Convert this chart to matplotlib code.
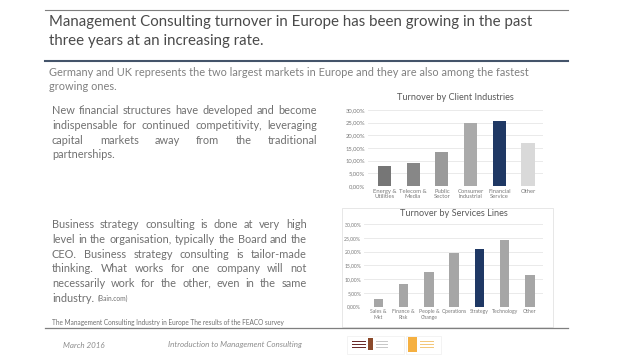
import numpy as np
import matplotlib.pyplot as plt
from matplotlib.patches import Rectangle

# data
client_labels = ["Energy &\nUtilities", "Telecom &\nMedia", "Public\nSector",
                 "Consumer\nIndustrial", "Financial\nService", "Other"]
client_values = [7.9, 9.2, 13.4, 24.9, 25.7, 16.8]
client_colors = ["#767676", "#878787", "#9a9a9a", "#aaaaaa", "#1f3864", "#d9d9d9"]

service_labels = ["Sales &\nMkt", "Finance &\nRisk", "People &\nChange",
                  "Operations", "Strategy", "Technology", "Other"]
service_values = [2.9, 8.2, 12.7, 19.6, 20.9, 24.2, 11.5]
service_colors = ["#a6a6a6"] * 4 + ["#1f3864"] + ["#a6a6a6"] * 2

yticks = [0, 5, 10, 15, 20, 25, 30]
ytick_labels = ["0,00%", "5,00%", "10,00%", "15,00%", "20,00%", "25,00%", "30,00%"]

title_lines = ["Management Consulting turnover in Europe has been growing in the past",
               "three years at an increasing rate."]
subtitle_lines = ["Germany and UK represents the two largest markets in Europe and they are also among the fastest",
                  "growing ones."]
para1 = ["New financial structures have developed and become",
         "indispensable for continued competitivity, leveraging",
         "capital markets away from the traditional",
         "partnerships."]
para2 = ["Business strategy consulting is done at very high",
         "level in the organisation, typically the Board and the",
         "CEO. Business strategy consulting is tailor-made",
         "thinking. What works for one company will not",
         "necessarily work for the other, even in the same"]

FONT = "Lato"
W, H = 638, 359
fig = plt.figure(figsize=(W / 100, H / 100), dpi=100)
fig.patch.set_facecolor("white")

ax = fig.add_axes([0, 0, 1, 1])
ax.set_xlim(0, W)
ax.set_ylim(H, 0)
ax.axis("off")

fig.canvas.draw()
renderer = fig.canvas.get_renderer()


def justify(lines, x0, x1, y0, dy, size, color):
    for i, line in enumerate(lines):
        words = line.split()
        texts = [ax.text(0, y0 + i * dy, w, fontsize=size, color=color, family=FONT,
                         va="center", ha="left") for w in words]
        widths = [t.get_window_extent(renderer).width for t in texts]
        gap = (x1 - x0 - sum(widths)) / max(len(words) - 1, 1)
        x = x0
        for t, wd in zip(texts, widths):
            t.set_x(x)
            x += wd + gap


# header
ax.plot([45, 568], [10, 10], color="#7f7f7f", lw=0.8)
ax.text(49, 22, title_lines[0], fontsize=10.8, color="#4a4a4a", family=FONT, va="center")
ax.text(49, 41, title_lines[1], fontsize=10.8, color="#4a4a4a", family=FONT, va="center")
ax.plot([45, 568], [61, 61], color="#44546a", lw=1.5)
ax.text(49, 72, subtitle_lines[0], fontsize=7.95, color="#808080", family=FONT, va="center")
ax.text(49, 86, subtitle_lines[1], fontsize=7.95, color="#808080", family=FONT, va="center")

# left paragraphs
PS = 7.9
PC = "#707070"
justify(para1[:-1], 52, 317, 111, 14.6, PS, PC)
ax.text(52, 111 + 3 * 14.6, para1[-1], fontsize=PS, color=PC, family=FONT, va="center")
justify(para2, 52, 307, 225, 14.6, PS, PC)
t = ax.text(52, 225 + 5 * 14.6, "industry.", fontsize=PS, color=PC, family=FONT, va="center")
wd = t.get_window_extent(renderer).width
ax.text(52 + wd + 4, 225 + 5 * 14.6 + 0.5, "(Bain.com)", fontsize=4.8, color=PC,
        family=FONT, va="center")
ax.text(52, 323, "The Management Consulting Industry in Europe The results of the FEACO survey",
        fontsize=4.7, color="#707070", family=FONT, va="center")

# chart 2 frame and bottom rule
ax.add_patch(Rectangle((342, 208), 211, 119, fill=False, ec="#e3e3e3", lw=0.6))
ax.plot([45, 568], [328, 328], color="#7f7f7f", lw=0.9)

# footer
ax.text(63, 345, "March 2016", fontsize=5.8, color="#8c8c8c", family=FONT, style="italic", va="center")
ax.text(168, 345, "Introduction to Management Consulting", fontsize=5.8, color="#8c8c8c",
        family=FONT, style="italic", va="center")
# logos (rough)
ax.add_patch(Rectangle((347, 336), 57, 18, fc="white", ec="#eeeeee", lw=0.5))
ax.add_patch(Rectangle((368, 338), 5, 12, fc="#8b4a2b", ec="none"))
for yy in (341, 344, 347):
    ax.add_patch(Rectangle((352, yy), 14, 1.2, fc="#6b2a2a", ec="none"))
    ax.add_patch(Rectangle((376, yy), 12, 1, fc="#c8c8c8", ec="none"))
ax.add_patch(Rectangle((406, 336), 35, 18, fc="white", ec="#eeeeee", lw=0.5))
ax.add_patch(Rectangle((408, 337), 9, 15, fc="#f5b041", ec="none"))
for yy in (341, 344, 347):
    ax.add_patch(Rectangle((420, yy), 14, 1, fc="#f3c77a", ec="none"))


def bar_chart(rect, labels, values, colors, title, width, title_y, lsize):
    a = fig.add_axes(rect)
    x = np.arange(len(values))
    a.bar(x, values, width=width, color=colors, zorder=3)
    a.set_ylim(0, 30)
    a.set_xlim(-0.57, len(values) - 0.48)
    a.set_yticks(yticks)
    a.set_yticklabels(ytick_labels)
    a.set_xticks(x)
    a.set_xticklabels(labels)
    a.grid(axis="y", color="#e6e6e6", lw=0.6, zorder=0)
    for s in a.spines.values():
        s.set_visible(False)
    a.tick_params(length=0, labelsize=lsize, labelcolor="#7a7a7a", pad=2)
    for lab in a.get_xticklabels() + a.get_yticklabels():
        lab.set_family(FONT)
        lab.set_linespacing(1.1)
    ax.text(rect[0] * W + rect[2] * W / 2, title_y, title, fontsize=6.6, color="#595959",
            family=FONT, ha="center", va="center")
    return a


# chart 1: 0% at y=186, 30% at y=110, x 368..543
bar_chart([368 / W, 1 - 186 / H, 175 / W, 76 / H], client_labels, client_values,
          client_colors, "Turnover by Client Industries", 0.46, 98, 4.2)
# chart 2: 0% at y=306.7, 30% at y=224, x 364..543
bar_chart([364 / W, 1 - 306.7 / H, 179 / W, 82.7 / H], service_labels, service_values,
          service_colors, "Turnover by Services Lines", 0.37, 213, 3.7)

fig.savefig("out.png", dpi=100, facecolor="white")
